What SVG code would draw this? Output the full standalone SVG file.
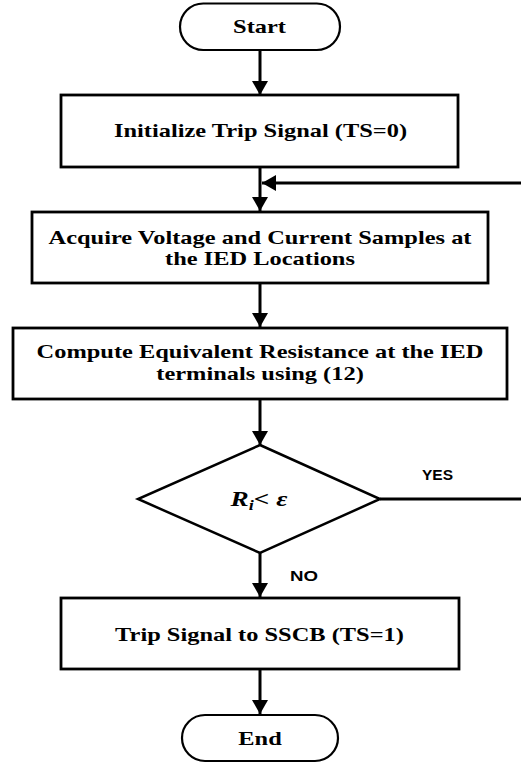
<svg xmlns="http://www.w3.org/2000/svg" width="521" height="763" viewBox="0 0 521 763">
<style>
.box{fill:#fff;stroke:#000;stroke-width:2.8}
.term{fill:#fff;stroke:#000;stroke-width:2.2}
.dia{fill:#fff;stroke:#000;stroke-width:2.5}
.con{fill:none;stroke:#000;stroke-width:3}
.t{font-family:"Liberation Serif","Times New Roman",serif;font-weight:bold;font-size:18.5px;text-anchor:middle;fill:#000}
.m{font-family:"Liberation Serif","Times New Roman",serif;font-weight:bold;font-style:italic;font-size:21px;text-anchor:middle;fill:#000}
.lbl{font-family:"Liberation Sans",Arial,sans-serif;font-weight:bold;font-size:14px;fill:#000}
</style>
<defs>
<marker id="ah" viewBox="0 0 14 16" refX="14" refY="8" markerWidth="14" markerHeight="16" markerUnits="userSpaceOnUse" orient="auto">
<path d="M0,0 L14,8 L0,16 z" fill="#000"/>
</marker>
</defs>
<g id="connectors">
<line class="con" x1="260" y1="50" x2="260" y2="95" marker-end="url(#ah)"/>
<line class="con" x1="260" y1="167" x2="260" y2="211" marker-end="url(#ah)"/>
<line class="con" x1="521" y1="183" x2="262" y2="183" marker-end="url(#ah)"/>
<line class="con" x1="260" y1="283" x2="260" y2="327" marker-end="url(#ah)"/>
<line class="con" x1="260" y1="399" x2="260" y2="445" marker-end="url(#ah)"/>
<line class="con" x1="380" y1="499" x2="521" y2="499"/>
<line class="con" x1="260" y1="553" x2="260" y2="597" marker-end="url(#ah)"/>
<line class="con" x1="260" y1="669" x2="260" y2="714" marker-end="url(#ah)"/>
</g>
<g id="start">
<rect class="term" x="180" y="3.5" width="160" height="46.5" rx="23.25"/>
<text class="t" transform="matrix(1.32 0 0 1 259.5 33)">Start</text>
</g>
<g id="init">
<rect class="box" x="61" y="95" width="397" height="72"/>
<text class="t" transform="matrix(1.32 0 0 1 260.5 137)">Initialize Trip Signal (TS=0)</text>
</g>
<g id="acquire">
<rect class="box" x="32" y="212" width="456" height="71"/>
<text class="t" transform="matrix(1.32 0 0 1 260 243.5)">Acquire Voltage and Current Samples at</text>
<text class="t" transform="matrix(1.32 0 0 1 260 265)">the IED Locations</text>
</g>
<g id="compute">
<rect class="box" x="13" y="328" width="494" height="71"/>
<text class="t" transform="matrix(1.32 0 0 1 260 358)">Compute Equivalent Resistance at the IED</text>
<text class="t" transform="matrix(1.32 0 0 1 260 379.5)">terminals using (12)</text>
</g>
<g id="decision">
<polygon class="dia" points="260,445 380,499 260,553 138,499"/>
<text class="m" transform="matrix(1.3 0 0 1 259 505.5)">R<tspan style="font-size:14px" dy="4">i</tspan><tspan dy="-4">&lt; ε</tspan></text>
<text class="lbl" x="422" y="480" textLength="31" lengthAdjust="spacingAndGlyphs">YES</text>
<text class="lbl" x="290" y="581" textLength="28" lengthAdjust="spacingAndGlyphs">NO</text>
</g>
<g id="trip">
<rect class="box" x="61" y="598" width="398" height="71"/>
<text class="t" transform="matrix(1.32 0 0 1 259.5 641)">Trip Signal to SSCB (TS=1)</text>
</g>
<g id="end">
<rect class="term" x="182" y="715" width="156" height="46" rx="23"/>
<text class="t" transform="matrix(1.32 0 0 1 260 745)">End</text>
</g>
</svg>
